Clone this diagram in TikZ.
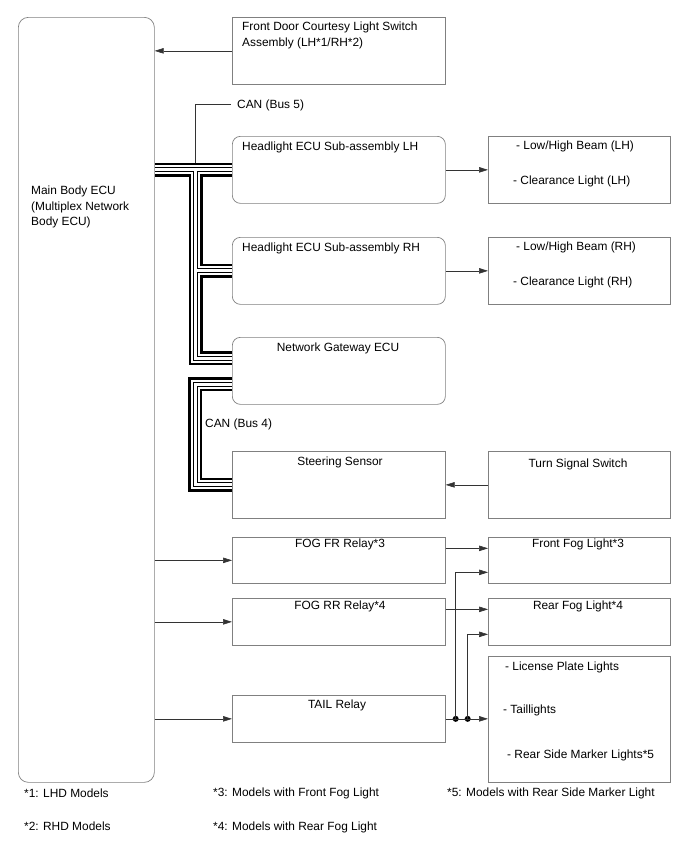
\documentclass[tikz,border=0pt]{standalone}
\usepackage{fontspec}
\setmainfont{Liberation Sans}
\usetikzlibrary{arrows.meta, positioning, calc, backgrounds}

\begin{document}
\begin{tikzpicture}[x=1pt, y=-1pt,
  box/.style={draw=black!50, line width=0.7pt, fill=white, anchor=north west,
    inner sep=0pt},
  rbox/.style={box, rounded corners=8pt},
  txt/.style={font=\fontsize{11.9}{15.5}\selectfont, inner sep=0pt,
    text height=8.5pt, text depth=0pt, anchor=west},
  mtxt/.style={font=\fontsize{11.9}{15.5}\selectfont, inner sep=0pt,
    align=left, anchor=north west},
  arr/.style={-{Triangle[length=9pt, width=5.5pt]}, line width=0.6pt, black!80},
  lead/.style={line width=0.6pt, black!80},
  canbus/.style={draw=black, line width=14pt,
    postaction={draw=white, line width=9pt},
    postaction={draw=black, line width=5pt},
    postaction={draw=white, line width=3pt}},
  dot/.style={circle, fill=black, inner sep=0pt, minimum size=6pt}
]
  \useasboundingbox (0,0) rectangle (688,852);

  % Main Body ECU
  \node[rbox, rounded corners=10pt, minimum width=136pt, minimum height=765pt]
    (ecu) at (18,17) {};
  \node[mtxt] (ecuT) at (31,186)
    {Main Body ECU\\(Multiplex Network\\Body ECU)};

  % Front door switch
  \node[box, minimum width=213pt, minimum height=67pt] (door) at (232,17) {};
  \node[mtxt] (doorT) at (242,22)
    {Front Door Courtesy Light Switch\\Assembly (LH*1/RH*2)};

  % Headlight ECUs
  \node[rbox, minimum width=213pt, minimum height=67pt] (hlL) at (232,136) {};
  \node[txt] (hlLT) at (242,146) {Headlight ECU Sub-assembly LH};
  \node[box, minimum width=182pt, minimum height=67pt] (lampL) at (488,136) {};
  \node[txt] (lampL1) at (516,145) {- Low/High Beam (LH)};
  \node[txt] (lampL2) at (513,180) {- Clearance Light (LH)};

  \node[rbox, minimum width=213pt, minimum height=67pt] (hlR) at (232,237) {};
  \node[txt] (hlRT) at (242,247) {Headlight ECU Sub-assembly RH};
  \node[box, minimum width=182pt, minimum height=67pt] (lampR) at (488,237) {};
  \node[txt] (lampR1) at (516,246) {- Low/High Beam (RH)};
  \node[txt] (lampR2) at (513,281) {- Clearance Light (RH)};

  % Gateway and steering
  \node[rbox, minimum width=213pt, minimum height=67pt] (gw) at (232,337) {};
  \node[txt, anchor=center] (gwT) at (338,347) {Network Gateway ECU};
  \node[box, minimum width=213pt, minimum height=67pt] (steer) at (232,451) {};
  \node[txt, anchor=center] (steerT) at (340,461) {Steering Sensor};
  \node[box, minimum width=182pt, minimum height=67pt] (turn) at (488,451) {};
  \node[txt, anchor=center] (turnT) at (578,463) {Turn Signal Switch};

  % Relays and lights
  \node[box, minimum width=213pt, minimum height=46pt] (fogF) at (232,537) {};
  \node[txt, anchor=center] (fogFT) at (340,543) {FOG FR Relay*3};
  \node[box, minimum width=182pt, minimum height=46pt] (lightF) at (488,537) {};
  \node[txt, anchor=center] (lightFT) at (578,543) {Front Fog Light*3};

  \node[box, minimum width=213pt, minimum height=47pt] (fogR) at (232,598) {};
  \node[txt, anchor=center] (fogRT) at (340,605) {FOG RR Relay*4};
  \node[box, minimum width=182pt, minimum height=47pt] (lightR) at (488,598) {};
  \node[txt, anchor=center] (lightRT) at (578,605) {Rear Fog Light*4};

  \node[box, minimum width=213pt, minimum height=47pt] (tail) at (232,695) {};
  \node[txt, anchor=center] (tailT) at (337,704) {TAIL Relay};
  \node[box, minimum width=182pt, minimum height=126pt] (lamps) at (488,656) {};
  \node[txt] (lamps1) at (505,666) {- License Plate Lights};
  \node[txt] (lamps2) at (503,709) {- Taillights};
  \node[txt] (lamps3) at (507,754) {- Rear Side Marker Lights*5};

  % CAN labels
  \node[txt] (can5) at (237,104) {CAN (Bus 5)};
  \node[txt] (can4) at (205,423) {CAN (Bus 4)};

  % CAN buses
  \coordinate (j5) at (195.5,169.5);
  \begin{scope}[on background layer]
    \draw[canbus] (ecu.east |- hlL.west) -- (hlL.west)
      (j5) |- ([yshift=12.5pt]gw.west)
      (j5 |- hlR.west) -- (hlR.west);
    \draw[canbus] ([yshift=-13.5pt]gw.west) -- ++(-37,0) |- (steer.west);
  \end{scope}
  \draw[lead] ([xshift=-6pt]can5.west) -| ([yshift=7pt]j5);

  % Signal lines
  \draw[arr] (door.west) -- (door.west -| ecu.east);
  \draw[arr] (hlL.east) -- (hlL.east -| lampL.west);
  \draw[arr] (hlR.east) -- (hlR.east -| lampR.west);
  \draw[arr] (turn.west) -- (turn.west -| steer.east);
  \draw[arr] (ecu.east |- fogF.west) -- (fogF.west);
  \draw[arr] (ecu.east |- fogR.west) -- (fogR.west);
  \draw[arr] (ecu.east |- tail.west) -- (tail.west);
  \draw[arr] ([yshift=12pt]fogF.east) -- ([yshift=12pt]lightF.west);
  \draw[arr] ([yshift=12.5pt]fogR.east) -- ([yshift=12.5pt]lightR.west);

  % TAIL relay output
  \path (tail.east) ++(10,0) node[dot] (d1) {} ++(12,0) node[dot] (d2) {};
  \draw[arr] (tail.east) -- (tail.east -| lamps.west);
  \draw[arr] (d1.center) |- ([yshift=-12pt]lightF.west);
  \draw[arr] (d2.center) |- ([yshift=-12.5pt]lightR.west);

  % Notes
  \node[txt] (n1) at (24,793) {*1: LHD Models};
  \node[txt] (n2) at (24,826) {*2: RHD Models};
  \node[txt] (n3) at (213,792) {*3: Models with Front Fog Light};
  \node[txt] (n4) at (213,826) {*4: Models with Rear Fog Light};
  \node[txt] (n5) at (447,792) {*5: Models with Rear Side Marker Light};
\end{tikzpicture}
\end{document}
